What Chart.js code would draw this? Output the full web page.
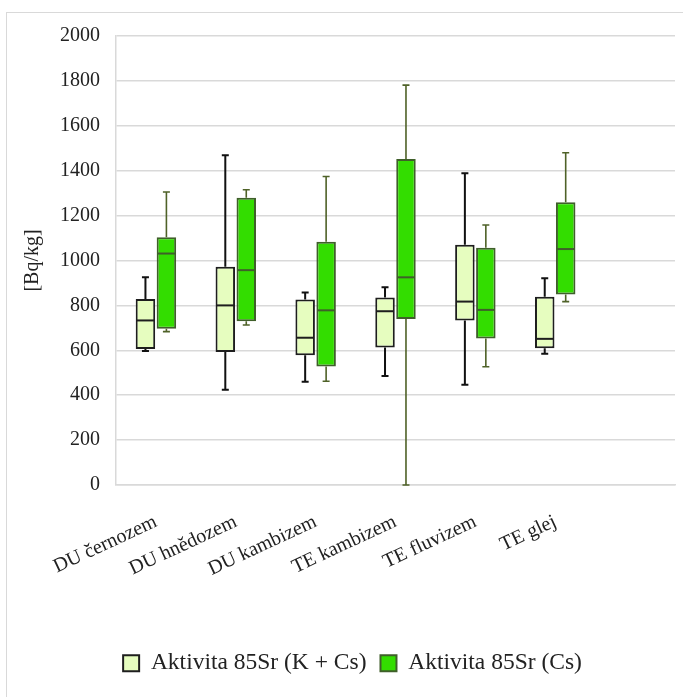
<!DOCTYPE html>
<html><head><meta charset="utf-8">
<script src="https://cdn.jsdelivr.net/npm/chart.js@4.4.0/dist/chart.umd.min.js"></script>
<style>
html,body{margin:0;padding:0;background:#fff;overflow:hidden;}
#frame{position:absolute;left:6px;top:12px;width:720px;height:720px;border:1px solid #d9d9d9;box-sizing:border-box;}
#wrap{position:absolute;left:0;top:0;width:683px;height:697px;}
</style></head><body>
<div id="frame"></div>
<div id="wrap"><canvas id="c" width="683" height="697"></canvas></div>
<script>
// ---- data ----
const categories = ['DU černozem', 'DU hnědozem', 'DU kambizem', 'TE kambizem', 'TE fluvizem', 'TE glej', ''];
const seriesNames = ['Aktivita 85Sr (K + Cs)', 'Aktivita 85Sr (Cs)'];
// Aktivita 85Sr (K + Cs)
const kcsMin    = [597, 424, 460, 486, 446, 585, null];
const kcsQ1     = [606, 592, 578, 613, 733, 609, null];
const kcsMedian = [733, 800, 656, 774, 817, 651, null];
const kcsQ3     = [829, 972, 826, 835, 1070, 838, null];
const kcsMax    = [925, 1469, 857, 881, 1389, 921, null];
// Aktivita 85Sr (Cs)
const csMin    = [683, 713, 462, 0, 527, 817, null];
const csQ1     = [696, 729, 528, 739, 653, 848, null];
const csMedian = [1031, 957, 778, 925, 780, 1051, null];
const csQ3     = [1104, 1280, 1083, 1452, 1057, 1259, null];
const csMax    = [1305, 1315, 1374, 1781, 1158, 1480, null];
const yTicks = [0, 200, 400, 600, 800, 1000, 1200, 1400, 1600, 1800, 2000];

// ---- build ----
function boxes(q1, q3) { return q1.map((v, i) => (v == null ? null : [v, q3[i]])); }
function stats(mn, q1, md, q3, mx) { return mn.map((v, i) => ({min: v, q1: q1[i], med: md[i], q3: q3[i], max: mx[i]})); }

const FONT = "'Liberation Serif', 'Times New Roman', serif";

const boxPlotExtras = {
  id: 'boxPlotExtras',
  afterLayout(chart) {
    // legend in the reference sits slightly right of the canvas centre
    if (chart.legend) { chart.legend.left += 30; }
  },
  beforeDatasetsDraw(chart) {
    const y = chart.scales.y, ctx = chart.ctx;
    chart.data.datasets.forEach((ds, di) => {
      const meta = chart.getDatasetMeta(di);
      meta.data.forEach((bar, i) => {
        const s = ds.stats[i];
        if (!s || s.min == null) return;
        const x = bar.x;
        const pMin = y.getPixelForValue(s.min), pMax = y.getPixelForValue(s.max);
        const pQ1 = y.getPixelForValue(s.q1), pQ3 = y.getPixelForValue(s.q3);
        const cap = 3.5;
        ctx.save();
        ctx.strokeStyle = ds.whiskerColor;
        ctx.lineWidth = ds.whiskerWidth;
        ctx.beginPath();
        ctx.moveTo(x, pQ3); ctx.lineTo(x, pMax);
        ctx.moveTo(x, pQ1); ctx.lineTo(x, pMin);
        ctx.moveTo(x - cap, pMax); ctx.lineTo(x + cap, pMax);
        ctx.moveTo(x - cap, pMin); ctx.lineTo(x + cap, pMin);
        ctx.stroke();
        ctx.restore();
      });
    });
  },
  afterDatasetsDraw(chart) {
    const y = chart.scales.y, ctx = chart.ctx;
    chart.data.datasets.forEach((ds, di) => {
      const meta = chart.getDatasetMeta(di);
      meta.data.forEach((bar, i) => {
        const s = ds.stats[i];
        if (!s || s.med == null) return;
        const pMed = y.getPixelForValue(s.med);
        ctx.save();
        ctx.strokeStyle = ds.borderColor;
        ctx.lineWidth = 2;
        ctx.beginPath();
        ctx.moveTo(bar.x - bar.width / 2 + 1, pMed);
        ctx.lineTo(bar.x + bar.width / 2 - 1, pMed);
        ctx.stroke();
        ctx.restore();
      });
    });
  }
};

new Chart(document.getElementById('c'), {
  type: 'bar',
  data: {
    labels: categories,
    datasets: [
      {
        label: seriesNames[0],
        data: boxes(kcsQ1, kcsQ3),
        stats: stats(kcsMin, kcsQ1, kcsMedian, kcsQ3, kcsMax),
        backgroundColor: '#e6fdbf',
        borderColor: '#1e1e1e',
        whiskerColor: '#111111',
        whiskerWidth: 2,
        borderWidth: 2,
        borderSkipped: false,
        categoryPercentage: 0.525,
        barPercentage: 0.93
      },
      {
        label: seriesNames[1],
        data: boxes(csQ1, csQ3),
        stats: stats(csMin, csQ1, csMedian, csQ3, csMax),
        backgroundColor: '#33dd00',
        borderColor: '#3f5f2a',
        whiskerColor: '#4f6228',
        whiskerWidth: 1.6,
        borderWidth: 2,
        borderSkipped: false,
        categoryPercentage: 0.525,
        barPercentage: 0.93
      }
    ]
  },
  options: {
    responsive: false,
    animation: false,
    layout: {padding: {left: 0, right: 8, top: 36, bottom: 12}},
    plugins: {
      tooltip: {enabled: false},
      legend: {
        position: 'bottom',
        labels: {
          font: {family: FONT, size: 23.5},
          color: '#222',
          boxWidth: 16,
          boxHeight: 16,
          padding: 14
        }
      }
    },
    scales: {
      x: {
        grid: {display: false},
        border: {display: true, color: '#d9d9d9', width: 1.5},
        ticks: {
          font: {family: FONT, size: 20},
          color: '#222',
          minRotation: 25,
          maxRotation: 25,
          autoSkip: false,
          padding: 17
        },
        afterFit(s) { s.height = 152.5; }
      },
      y: {
        min: 0,
        max: 2000,
        afterBuildTicks(s) { s.ticks = yTicks.map(v => ({value: v})); },
        grid: {color: '#d9d9d9', lineWidth: 1.5, drawTicks: false},
        border: {display: true, color: '#d9d9d9', width: 1.5},
        ticks: {
          font: {family: FONT, size: 20},
          color: '#222',
          padding: 16,
          callback: (v) => String(v)
        },
        title: {
          display: true,
          text: '[Bq/kg]',
          font: {family: FONT, size: 20},
          color: '#222',
          padding: {top: 21, bottom: 0}
        },
        afterFit(s) { s.width = 116; }
      }
    }
  },
  plugins: [boxPlotExtras]
});
</script>
</body></html>
